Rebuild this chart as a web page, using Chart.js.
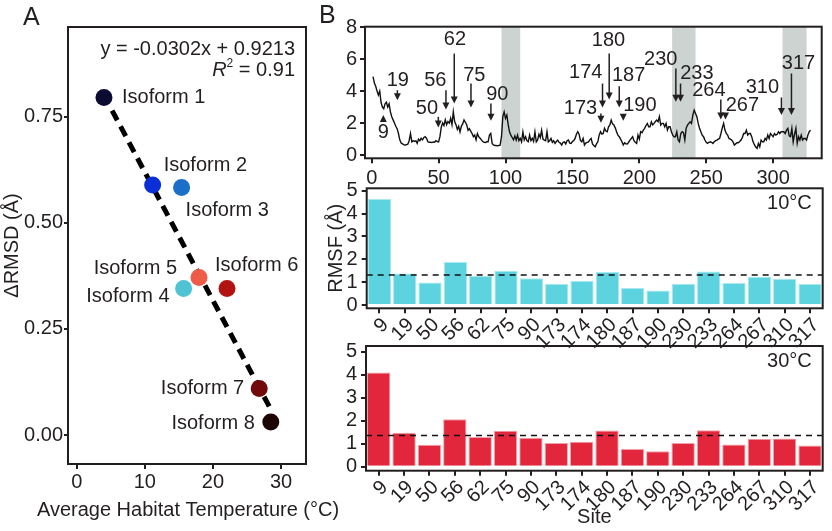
<!DOCTYPE html>
<html>
<head>
<meta charset="utf-8">
<script src="https://cdn.jsdelivr.net/npm/chart.js@4"></script>
<style>
  html, body { margin: 0; padding: 0; background: #fff; }
  #wrap { position: relative; width: 832px; height: 531px; overflow: hidden; }
  .box { position: absolute; }
  .letter { position: absolute; font: 25px "Liberation Sans", Arial, sans-serif; line-height: 25px; color: #231f20; }
</style>
</head>
<body>
<div id="wrap">
  <div class="box" style="left:0;top:0;width:345px;height:531px"><canvas id="cA"></canvas></div>
  <div class="box" style="left:320px;top:0;width:512px;height:192px"><canvas id="cLine"></canvas></div>
  <div class="box" style="left:320px;top:182px;width:512px;height:168px"><canvas id="cBar10"></canvas></div>
  <div class="box" style="left:320px;top:340px;width:512px;height:191px"><canvas id="cBar30"></canvas></div>
  <div class="letter" style="left:23px;top:4px">A</div>
  <div class="letter" style="left:319px;top:2px">B</div>
</div>
<script>
// panel A: isoforms
const isoforms = ["Isoform 1", "Isoform 2", "Isoform 3", "Isoform 4", "Isoform 5", "Isoform 6", "Isoform 7", "Isoform 8"];
const habitatTemp = [4.0, 11.15, 15.4, 15.7, 17.96, 22.07, 26.8, 28.5];
const deltaRmsd = [0.795, 0.589, 0.583, 0.345, 0.371, 0.345, 0.110, 0.031];
const isoformColors = ["#0c0c32", "#0b2fd6", "#1c6fc8", "#4fc3d3", "#ee5b46", "#b11212", "#720a0a", "#1e0505"];
const fitSlope = -0.0302;
const fitIntercept = 0.9213;
const fitR2 = 0.91;
const fitRange = [5.2, 28.6];

// panel B: RMSF trace along the sequence
const rmsfTrace = [
  4.9, 4.5, 4.3, 4.0, 3.75, 4.0, 3.3, 3.0, 2.9, 3.2,
  3.3, 3.0, 3.2, 2.7, 2.4, 2.2, 2.0, 1.8, 1.65, 1.35,
  0.95, 0.75, 0.7, 0.65, 0.62, 0.65, 0.68, 0.9, 1.35, 0.83,
  0.9, 0.85, 0.9, 0.73, 1.0, 0.9, 1.05, 0.95, 1.1, 1.15,
  1.05, 0.83, 0.8, 0.8, 0.78, 0.82, 0.8, 0.9, 0.85, 0.83,
  1.15, 1.75, 2.0, 1.85, 2.2, 1.9, 2.1, 2.0, 2.3, 1.9,
  2.7, 2.1, 1.9, 1.6, 1.8, 1.45, 1.8, 1.95, 2.2, 2.05,
  1.9, 1.55, 1.65, 1.5, 1.35, 1.15, 1.25, 0.95, 1.35, 1.15,
  1.05, 0.95, 0.85, 0.8, 0.78, 0.83, 0.83, 1.25, 1.35, 0.73,
  0.63, 0.6, 0.6, 0.58, 0.6, 0.62, 1.15, 2.4, 2.7, 2.3,
  2.5, 1.9, 1.45, 1.25, 1.1, 0.95, 1.2, 0.94, 1.25, 0.9,
  1.05, 0.83, 1.45, 0.95, 1.15, 0.9, 0.83, 1.25, 0.9, 1.05,
  0.85, 1.45, 0.83, 0.95, 1.3, 1.1, 1.55, 1.0, 0.94, 0.9,
  1.46, 0.83, 0.9, 1.04, 0.8, 0.9, 0.73, 0.85, 0.94, 0.8,
  0.75, 0.63, 0.8, 0.83, 0.7, 0.9, 0.94, 0.75, 0.73, 0.85,
  0.9, 1.04, 1.3, 1.46, 1.31, 0.9, 0.83, 1.04, 0.63, 0.75,
  0.8, 0.83, 0.95, 1.04, 0.7, 0.6, 0.52, 0.7, 0.83, 1.25,
  1.46, 1.31, 1.35, 1.67, 1.5, 1.46, 1.77, 1.88, 2.19, 1.95,
  1.88, 1.7, 1.46, 1.25, 1.15, 1.0, 0.83, 0.63, 0.77, 0.7,
  0.69, 0.8, 0.94, 1.04, 1.15, 0.9, 0.8, 0.73, 1.25, 1.0,
  1.46, 1.4, 1.56, 1.67, 1.85, 1.98, 1.77, 1.77, 2.08, 1.88,
  1.98, 2.1, 2.19, 2.08, 2.4, 1.88, 1.98, 1.98, 1.77, 1.98,
  1.56, 1.77, 1.77, 1.46, 1.25, 1.15, 1.15, 1.46, 0.94, 0.83,
  1.35, 1.46, 1.4, 0.94, 1.67, 1.88, 1.98, 2.08, 1.98, 2.5,
  2.81, 2.6, 2.4, 1.98, 1.67, 1.46, 1.25, 1.15, 0.94, 0.8,
  0.73, 0.8, 0.83, 0.8, 0.73, 0.83, 0.9, 0.94, 1.0, 1.04,
  1.35, 1.7, 1.98, 1.56, 1.35, 1.25, 1.04, 1.0, 0.94, 0.83,
  0.63, 0.7, 0.77, 0.77, 0.85, 0.94, 1.1, 1.35, 1.35, 1.56,
  1.25, 1.35, 1.35, 1.15, 0.83, 0.65, 0.5, 0.42, 0.73, 0.52,
  0.94, 0.83, 0.83, 1.04, 0.94, 1.25, 1.04, 1.35, 1.25, 1.15,
  1.35, 1.25, 1.3, 1.46, 1.35, 1.46, 1.46, 1.46, 1.35, 1.56,
  1.67, 1.2, 1.15, 1.67, 0.83, 1.3, 1.67, 0.73, 1.15, 0.94,
  1.25, 0.94, 1.04, 1.04, 0.94, 1.25, 1.46, 1.56
];
const shadedRegions = [[97, 111], [224.5, 242], [307, 325]];

// panel B: selected sites
const sites = ["9", "19", "50", "56", "62", "75", "90", "173", "174", "180", "187", "190", "230", "233", "264", "267", "310", "317"];
const rmsf10 = [4.64, 1.38, 0.98, 1.88, 1.27, 1.50, 1.17, 0.93, 1.06, 1.44, 0.74, 0.64, 0.93, 1.47, 0.96, 1.24, 1.15, 0.92];
const rmsf30 = [4.10, 1.48, 0.96, 2.07, 1.30, 1.57, 1.26, 1.03, 1.09, 1.58, 0.77, 0.67, 1.03, 1.59, 0.97, 1.22, 1.23, 0.93];
const rmsfMean10 = 1.31;
const rmsfMean30 = 1.36;

// layout of the callout arrows (residue position, arrow tail/tip, label centre)
const callouts = [
  { text: "9",   at: 8.7,   from: 2.08, to: 2.5,  lx: 8.7,   ly: 1.41 },
  { text: "19",  at: 19.2,  from: 4.05, to: 3.43, lx: 19.5,  ly: 4.66 },
  { text: "50",  at: 49.8,  from: 2.39, to: 1.73, lx: 41.3,  ly: 2.91 },
  { text: "56",  at: 55.5,  from: 4.05, to: 2.85, lx: 47.5,  ly: 4.66 },
  { text: "62",  at: 61.7,  from: 6.34, to: 3.22, lx: 62.2,  ly: 7.2 },
  { text: "75",  at: 74.2,  from: 4.47, to: 2.97, lx: 76.7,  ly: 4.96 },
  { text: "90",  at: 89.1,  from: 3.22, to: 2.14, lx: 93.9,  ly: 3.8 },
  { text: "173", at: 171.3, from: 2.6,  to: 2.02, lx: 156,   ly: 2.91 },
  { text: "174", at: 172.5, from: 4.47, to: 2.97, lx: 160,   ly: 5.17 },
  { text: "180", at: 177.5, from: 6.34, to: 3.47, lx: 177,   ly: 7.15 },
  { text: "187", at: 185,   from: 4.3,  to: 2.97, lx: 192,   ly: 4.96 },
  { text: "190", at: 188,   from: 2.54, to: 2.14, lx: 200.4, ly: 3.12 },
  { text: "230", at: 227.3, from: 5.41, to: 3.33, lx: 216,   ly: 5.97 },
  { text: "233", at: 230.8, from: 4.47, to: 3.33, lx: 243,   ly: 5.11 },
  { text: "264", at: 260.9, from: 3.47, to: 2.22, lx: 252,   ly: 4.01 },
  { text: "267", at: 264.4, from: 2.6,  to: 2.22, lx: 277,   ly: 3.12 },
  { text: "310", at: 306.2, from: 3.6,  to: 2.5,  lx: 292,   ly: 4.24 },
  { text: "317", at: 313.7, from: 5.1,  to: 2.5,  lx: 319,   ly: 5.7 }
];
const isoformLabelOffsets = [
  { dx: 18, dy: 0, align: "left" },
  { dx: 11, dy: -19, align: "left" },
  { dx: 4, dy: 23, align: "left" },
  { dx: -14, dy: 8, align: "right" },
  { dx: -22, dy: -9, align: "right" },
  { dx: -12, dy: -23, align: "left" },
  { dx: -15, dy: 0, align: "right" },
  { dx: -16, dy: 2, align: "right" }
];

const font = "'Liberation Sans', Arial, Helvetica, sans-serif";
const ink = "#231f20";
const textFont = { family: font, size: 20, style: "normal", weight: "normal", lineHeight: 1.2 };

Chart.defaults.font.family = font;
Chart.defaults.font.size = 20;
Chart.defaults.color = ink;
Chart.defaults.animation = false;
Chart.defaults.plugins.legend.display = false;
Chart.defaults.plugins.tooltip.enabled = false;

const framePlugin = {
  id: "frame",
  afterDatasetsDraw(chart) {
    const { ctx, chartArea: a } = chart;
    ctx.save();
    ctx.strokeStyle = ink;
    ctx.lineWidth = 2;
    ctx.strokeRect(a.left, a.top, a.right - a.left, a.bottom - a.top);
    ctx.restore();
  }
};

function fixSize(dim, size) {
  return s => {
    s[dim] = size;
    s.paddingLeft = 0; s.paddingRight = 0; s.paddingTop = 0; s.paddingBottom = 0;
  };
}

function tickMarks(len) {
  return { drawOnChartArea: false, drawTicks: true, tickLength: len, color: ink, lineWidth: 2 };
}

function fixedTicks(values) {
  return s => { s.ticks = values.map(v => ({ value: v })); };
}

// ---------- panel A ----------
const isoformText = {
  id: "isoformText",
  afterDatasetsDraw(chart) {
    const ctx = chart.ctx;
    const a = chart.chartArea;
    const meta = chart.getDatasetMeta(0);
    ctx.save();
    ctx.fillStyle = ink;
    ctx.textBaseline = "middle";
    ctx.font = "20px " + font;
    meta.data.forEach((pt, i) => {
      const o = isoformLabelOffsets[i];
      ctx.textAlign = o.align;
      ctx.fillText(isoforms[i], pt.x + o.dx, pt.y + o.dy);
    });

    // axis title drawn here so it is not squeezed to the plot width
    ctx.textAlign = "center";
    ctx.fillText("Average Habitat Temperature (°C)", (a.left + a.right) / 2 + 1, 510);

    ctx.textAlign = "right";
    const right = a.right - 11;
    ctx.fillText("y = " + fitSlope.toFixed(4) + "x + " + fitIntercept.toFixed(4), right, a.top + 22);

    const y2 = a.top + 43;
    let x = right;
    const tail = " = " + fitR2.toFixed(2);
    ctx.fillText(tail, x, y2);
    x -= ctx.measureText(tail).width;
    ctx.font = "12px " + font;
    ctx.fillText("2", x, y2 - 6);
    x -= ctx.measureText("2").width;
    ctx.font = "italic 20px " + font;
    ctx.fillText("R", x, y2);
    ctx.restore();
  }
};

new Chart(document.getElementById("cA"), {
  type: "scatter",
  data: {
    datasets: [
      {
        data: habitatTemp.map((t, i) => ({ x: t, y: deltaRmsd[i] })),
        pointRadius: 8.5,
        pointBackgroundColor: isoformColors,
        pointBorderWidth: 0
      },
      {
        type: "line",
        data: fitRange.map(t => ({ x: t, y: fitSlope * t + fitIntercept })),
        borderColor: "#000",
        borderWidth: 5,
        borderDash: [11, 7],
        pointRadius: 0,
        fill: false
      }
    ]
  },
  options: {
    responsive: true,
    maintainAspectRatio: false,
    layout: { padding: { top: 27, right: 39, left: 0, bottom: 0 } },
    scales: {
      x: {
        type: "linear",
        min: -1.28,
        max: 33.67,
        afterBuildTicks: fixedTicks([0, 10, 20, 30]),
        afterFit: fixSize("height", 67),
        grid: tickMarks(5),
        border: { display: false },
        ticks: { padding: 1, font: textFont }
      },
      y: {
        min: -0.068,
        max: 0.961,
        afterBuildTicks: fixedTicks([0, 0.25, 0.5, 0.75]),
        afterFit: fixSize("width", 68),
        grid: tickMarks(4),
        border: { display: false },
        ticks: { padding: 1, font: textFont, autoSkip: false, callback: v => Number(v).toFixed(2) },
        title: { display: true, text: "ΔRMSD (Å)", font: textFont, padding: { top: 0, bottom: 0 } }
      }
    }
  },
  plugins: [framePlugin, isoformText]
});

// ---------- panel B, trace ----------
const shade = {
  id: "shade",
  beforeDatasetsDraw(chart) {
    const { ctx, chartArea: a, scales } = chart;
    ctx.save();
    ctx.fillStyle = "#cdd3d1";
    shadedRegions.forEach(([s, e]) => {
      const x1 = scales.x.getPixelForValue(s);
      const x2 = scales.x.getPixelForValue(e);
      ctx.fillRect(x1, a.top, x2 - x1, a.bottom - a.top);
    });
    ctx.restore();
  }
};

const arrows = {
  id: "arrows",
  afterDatasetsDraw(chart) {
    const { ctx, scales } = chart;
    ctx.save();
    ctx.strokeStyle = ink;
    ctx.fillStyle = ink;
    ctx.lineWidth = 1.5;
    ctx.font = "20px " + font;
    ctx.textAlign = "center";
    ctx.textBaseline = "middle";
    callouts.forEach(c => {
      const x = scales.x.getPixelForValue(c.at);
      const y1 = scales.y.getPixelForValue(c.from);
      const y2 = scales.y.getPixelForValue(c.to);
      const dir = y2 > y1 ? 1 : -1;
      ctx.beginPath();
      ctx.moveTo(x, y1);
      ctx.lineTo(x, y2 - dir * 5);
      ctx.stroke();
      ctx.beginPath();
      ctx.moveTo(x, y2);
      ctx.lineTo(x - 3.5, y2 - dir * 7);
      ctx.lineTo(x + 3.5, y2 - dir * 7);
      ctx.closePath();
      ctx.fill();
      ctx.fillText(c.text, scales.x.getPixelForValue(c.lx), scales.y.getPixelForValue(c.ly));
    });
    ctx.restore();
  }
};

new Chart(document.getElementById("cLine"), {
  type: "line",
  data: {
    datasets: [{
      data: rmsfTrace.map((v, i) => ({ x: i + 1, y: v })),
      borderColor: "#111",
      borderWidth: 1.4,
      pointRadius: 0,
      tension: 0,
      fill: false
    }]
  },
  options: {
    responsive: true,
    maintainAspectRatio: false,
    layout: { padding: { top: 26.7, right: 10.3, left: 0, bottom: 0 } },
    scales: {
      x: {
        type: "linear",
        min: -5,
        max: 336.3,
        afterBuildTicks: fixedTicks([0, 50, 100, 150, 200, 250, 300]),
        afterFit: fixSize("height", 33.7),
        grid: tickMarks(5),
        border: { display: false },
        ticks: { padding: 3, font: textFont, autoSkip: false }
      },
      y: {
        min: -0.2,
        max: 8.02,
        afterBuildTicks: fixedTicks([0, 2, 4, 6, 8]),
        afterFit: fixSize("width", 45),
        grid: tickMarks(5),
        border: { display: false },
        ticks: { padding: 3, font: textFont, autoSkip: false }
      }
    }
  },
  plugins: [shade, framePlugin, arrows]
});

// ---------- panel B, bars ----------
function makeBars(id, values, mean, fillColor, edgeColor, tag, dims) {
  const meanLine = {
    id: "meanLine",
    afterDatasetsDraw(chart) {
      const { ctx, chartArea: a, scales } = chart;
      const y = scales.y.getPixelForValue(mean);
      ctx.save();
      ctx.strokeStyle = "#111";
      ctx.lineWidth = 1.5;
      ctx.setLineDash([6, 5]);
      ctx.beginPath();
      ctx.moveTo(a.left, y);
      ctx.lineTo(a.right, y);
      ctx.stroke();
      ctx.setLineDash([]);
      ctx.fillStyle = ink;
      ctx.font = "20px " + font;
      ctx.textAlign = "right";
      ctx.textBaseline = "middle";
      ctx.fillText(tag, a.right - 11, a.top + 15);
      ctx.restore();
    }
  };

  new Chart(document.getElementById(id), {
    type: "bar",
    data: {
      labels: sites,
      datasets: [{
        data: values,
        backgroundColor: fillColor,
        borderColor: edgeColor,
        borderWidth: 1,
        barPercentage: 0.92,
        categoryPercentage: 1
      }]
    },
    options: {
      responsive: true,
      maintainAspectRatio: false,
      layout: { padding: { top: dims.top, right: 9.3, left: 0, bottom: 0 } },
      scales: {
        x: {
          afterFit: fixSize("height", dims.xHeight),
          grid: Object.assign(tickMarks(5), { offset: false }),
          border: { display: false },
          ticks: { autoSkip: false, minRotation: 45, maxRotation: 45, padding: 0, labelOffset: 6, font: textFont },
          title: { display: !!dims.xTitle, text: dims.xTitle || "", font: textFont, padding: { top: 0, bottom: 2 } }
        },
        y: {
          min: dims.yMin,
          max: dims.yMax,
          afterBuildTicks: fixedTicks([0, 1, 2, 3, 4, 5]),
          afterFit: fixSize("width", dims.yWidth),
          grid: tickMarks(5),
          border: { display: false },
          ticks: { padding: 4, font: textFont, autoSkip: false },
          title: { display: !!dims.yTitle, text: dims.yTitle || "", font: textFont, padding: { top: 4, bottom: 0 } }
        }
      }
    },
    plugins: [meanLine, framePlugin]
  });
}

makeBars("cBar10", rmsf10, rmsfMean10, "#5dd3df", "#a9e9ef", "10°C",
  { top: 6.3, xHeight: 41.7, yWidth: 46.7, yMin: -0.144, yMax: 5.105, yTitle: "RMSF (Å)" });
makeBars("cBar30", rmsf30, rmsfMean30, "#e2263b", "#f2a0a9", "30°C",
  { top: 6, xHeight: 60.3, yWidth: 46, yMin: -0.17, yMax: 5.25, xTitle: "Site" });
</script>
</body>
</html>
